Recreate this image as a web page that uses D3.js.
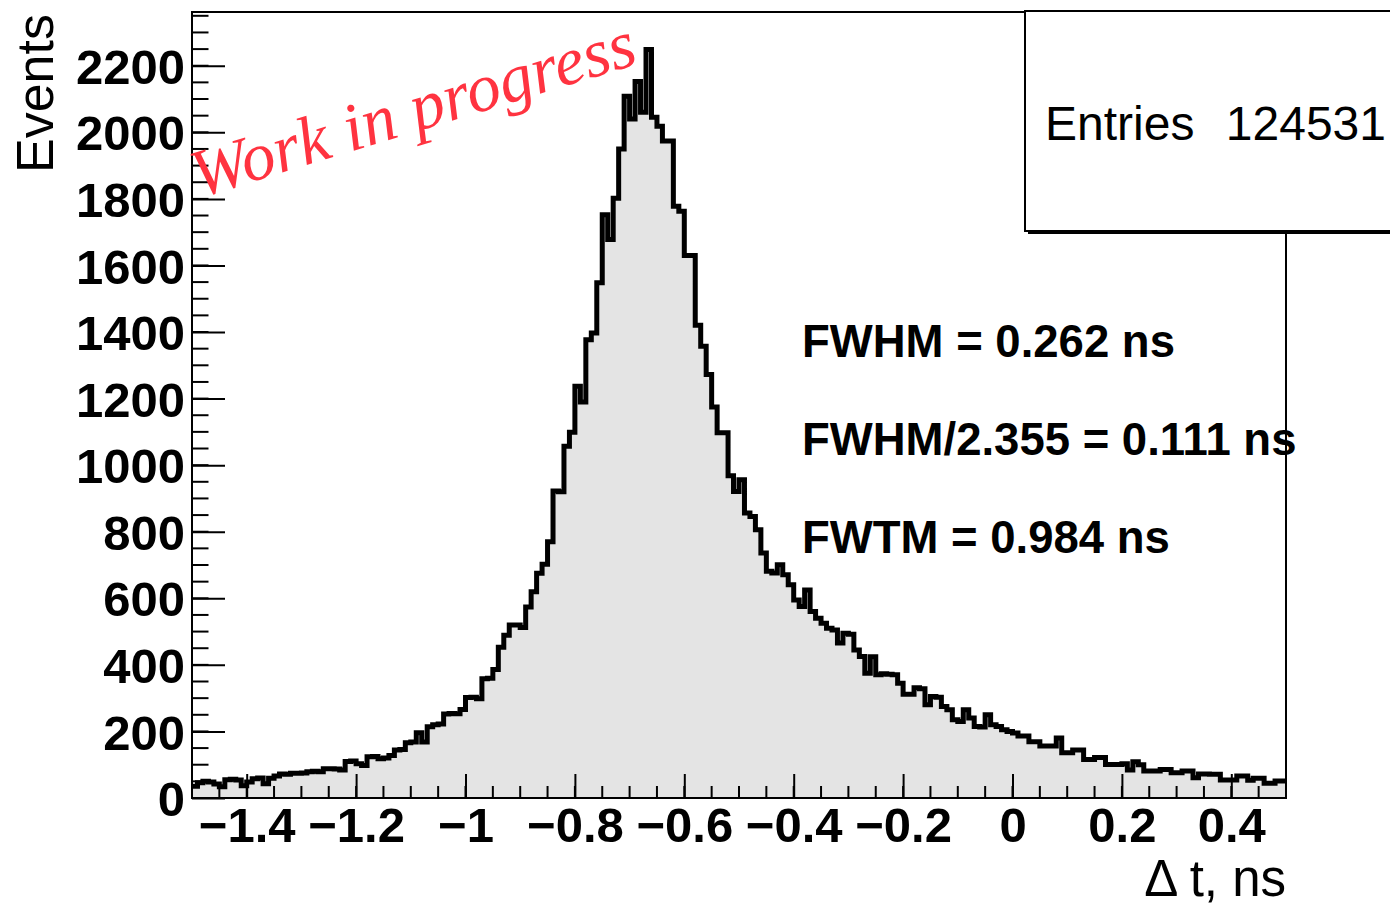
<!DOCTYPE html>
<html>
<head>
<meta charset="utf-8">
<script src="https://cdn.jsdelivr.net/npm/d3@7"></script>
<style>
  body { margin: 0; background: #fff; }
  svg { display: block; }
</style>
</head>
<body>
<svg id="chart"></svg>
<script>
// histogram binning: 200 bins of 0.01 ns from -1.5 to 0.5
const binLow = -1.5;
const binWidth = 0.01;
const counts = [
  35, 46, 50, 48, 42, 34, 55, 56, 54, 37,
  48, 58, 60, 43, 59, 66, 72, 71, 74, 74,
  75, 79, 80, 79, 88, 88, 87, 84, 110, 111,
  103, 98, 124, 125, 118, 120, 128, 144, 146, 166,
  168, 196, 168, 214, 220, 222, 252, 254, 253, 266,
  302, 303, 298, 358, 360, 386, 453, 489, 520, 520,
  512, 574, 620, 675, 702, 770, 922, 920, 1057, 1099,
  1237, 1190, 1377, 1397, 1548, 1752, 1678, 1802, 1950, 2108,
  2040, 2153, 2060, 2249, 2045, 2018, 1974, 1974, 1778, 1763,
  1630, 1630, 1420, 1357, 1272, 1175, 1097, 1097, 968, 921,
  956, 856, 846, 806, 736, 681, 676, 701, 671, 641,
  595, 575, 625, 560, 540, 525, 510, 505, 466, 495,
  492, 445, 425, 375, 424, 370, 373, 372, 370, 345,
  312, 312, 331, 328, 280, 305, 303, 275, 265, 235,
  230, 265, 240, 215, 213, 250, 220, 215, 205, 200,
  195, 186, 186, 169, 169, 156, 156, 156, 180, 136,
  136, 144, 144, 116, 116, 122, 122, 101, 101, 101,
  103, 84, 109, 100, 81, 81, 81, 86, 86, 76,
  76, 81, 81, 61, 72, 72, 71, 71, 54, 54,
  54, 66, 66, 53, 59, 59, 44, 44, 51, 51
];

const xTickValues = [-1.4, -1.2, -1, -0.8, -0.6, -0.4, -0.2, 0, 0.2, 0.4];
const yTickValues = [0, 200, 400, 600, 800, 1000, 1200, 1400, 1600, 1800, 2000, 2200];

const statsLabels = ["Entries"];
const statsValues = ["124531"];
const resultLines = ["FWHM = 0.262 ns", "FWHM/2.355 = 0.111 ns", "FWTM = 0.984 ns"];

const width = 1390;
const height = 909;
const frame = { left: 192, right: 1286, top: 12, bottom: 798 };
const font = "'Liberation Sans', Arial, sans-serif";

const svg = d3.select("#chart")
  .attr("width", width)
  .attr("height", height);

const x = d3.scaleLinear()
  .domain([-1.5, 0.5])
  .range([frame.left, frame.right]);

const yMax = d3.max(counts) * 1.05;
const y = d3.scaleLinear()
  .domain([0, yMax])
  .range([frame.bottom, frame.top]);

// step points: one per bin edge, last bin repeated at upper edge
const steps = counts.map((c, i) => ({ e: binLow + i * binWidth, c: c }));
steps.push({ e: binLow + counts.length * binWidth, c: counts[counts.length - 1] });

svg.append("clipPath").attr("id", "frameClip")
  .append("rect")
  .attr("x", frame.left).attr("y", frame.top)
  .attr("width", frame.right - frame.left)
  .attr("height", frame.bottom - frame.top);

const area = d3.area()
  .curve(d3.curveStepAfter)
  .x(d => x(d.e))
  .y0(y(0))
  .y1(d => y(d.c));

const line = d3.line()
  .curve(d3.curveStepAfter)
  .x(d => x(d.e))
  .y(d => y(d.c));

const hist = svg.append("g").attr("clip-path", "url(#frameClip)");

hist.append("path")
  .attr("d", area(steps))
  .attr("fill", "#e4e4e4");

hist.append("path")
  .attr("d", line(steps))
  .attr("fill", "none")
  .attr("stroke", "#000")
  .attr("stroke-width", 5)
  .attr("stroke-linejoin", "miter")
  .attr("stroke-linecap", "square");

// frame
svg.append("rect")
  .attr("x", frame.left).attr("y", frame.top)
  .attr("width", frame.right - frame.left)
  .attr("height", frame.bottom - frame.top)
  .attr("fill", "none")
  .attr("stroke", "#000")
  .attr("stroke-width", 2);

// x axis, ticks inward
const xMinor = d3.range(-1.5, 0.5001, 0.05);
const xAxis = d3.axisBottom(x)
  .tickValues(xTickValues)
  .tickSizeInner(-24)
  .tickSizeOuter(0)
  .tickPadding(9)
  .tickFormat(d => d3.format("~g")(d).replace("-", "\u2212"));

const gx = svg.append("g")
  .attr("transform", `translate(0,${frame.bottom})`)
  .call(xAxis);

svg.append("g")
  .selectAll("line")
  .data(xMinor)
  .join("line")
  .attr("x1", d => x(d)).attr("x2", d => x(d))
  .attr("y1", frame.bottom).attr("y2", frame.bottom - 12)
  .attr("stroke", "#000")
  .attr("stroke-width", 2);

// y axis, ticks inward
const yMinor = d3.range(0, yMax, 50);
const yAxis = d3.axisLeft(y)
  .tickValues(yTickValues)
  .tickSizeInner(-33)
  .tickSizeOuter(0)
  .tickPadding(7)
  .tickFormat(d3.format("d"));

const gy = svg.append("g")
  .attr("transform", `translate(${frame.left},0)`)
  .call(yAxis);

svg.append("g")
  .selectAll("line")
  .data(yMinor)
  .join("line")
  .attr("x1", frame.left).attr("x2", frame.left + 16.5)
  .attr("y1", d => y(d)).attr("y2", d => y(d))
  .attr("stroke", "#000")
  .attr("stroke-width", 2);

[gx, gy].forEach(g => {
  g.select(".domain").remove();
  g.selectAll(".tick line").attr("stroke", "#000").attr("stroke-width", 2);
  g.selectAll(".tick text")
    .attr("fill", "#000")
    .style("font-family", font)
    .style("font-weight", "bold")
    .style("font-size", "49px");
});
gx.selectAll(".tick text").attr("dy", "0.71em");
gy.selectAll(".tick text").attr("dy", "0.36em");

// axis titles
svg.append("text")
  .attr("transform", "translate(53,14) rotate(-90)")
  .attr("text-anchor", "end")
  .style("font-family", font)
  .style("font-size", "52px")
  .text("Events");

svg.append("text")
  .attr("x", frame.right)
  .attr("y", 896)
  .attr("text-anchor", "end")
  .style("font-family", font)
  .style("font-size", "51px")
  .text("\u0394 t, ns");

// fit results
svg.append("g")
  .selectAll("text")
  .data(resultLines)
  .join("text")
  .attr("x", 802)
  .attr("y", (d, i) => 357 + i * 98)
  .style("font-family", font)
  .style("font-weight", "bold")
  .style("font-size", "45.5px")
  .text(d => d);

// stats box with shadow
const box = { x: 1025, y: 11, w: 380, h: 220 };
svg.append("rect")
  .attr("x", box.x + 3).attr("y", box.y + 3)
  .attr("width", box.w).attr("height", box.h)
  .attr("fill", "#000");
svg.append("rect")
  .attr("x", box.x).attr("y", box.y)
  .attr("width", box.w).attr("height", box.h)
  .attr("fill", "#fff")
  .attr("stroke", "#000")
  .attr("stroke-width", 2);

svg.append("g")
  .selectAll("text")
  .data(statsLabels)
  .join("text")
  .attr("x", 1045)
  .attr("y", (d, i) => 140 + i * 60)
  .style("font-family", font)
  .style("font-size", "48px")
  .text(d => d);

svg.append("g")
  .selectAll("text")
  .data(statsValues)
  .join("text")
  .attr("x", 1386)
  .attr("y", (d, i) => 140 + i * 60)
  .attr("text-anchor", "end")
  .style("font-family", font)
  .style("font-size", "48px")
  .text(d => d);

// watermark
svg.append("text")
  .attr("transform", "translate(199,198) rotate(-17)")
  .style("font-family", "'Liberation Serif', 'Times New Roman', serif")
  .style("font-style", "italic")
  .style("font-size", "68px")
  .attr("fill", "#ff3340")
  .text("Work in progress");
</script>
</body>
</html>
